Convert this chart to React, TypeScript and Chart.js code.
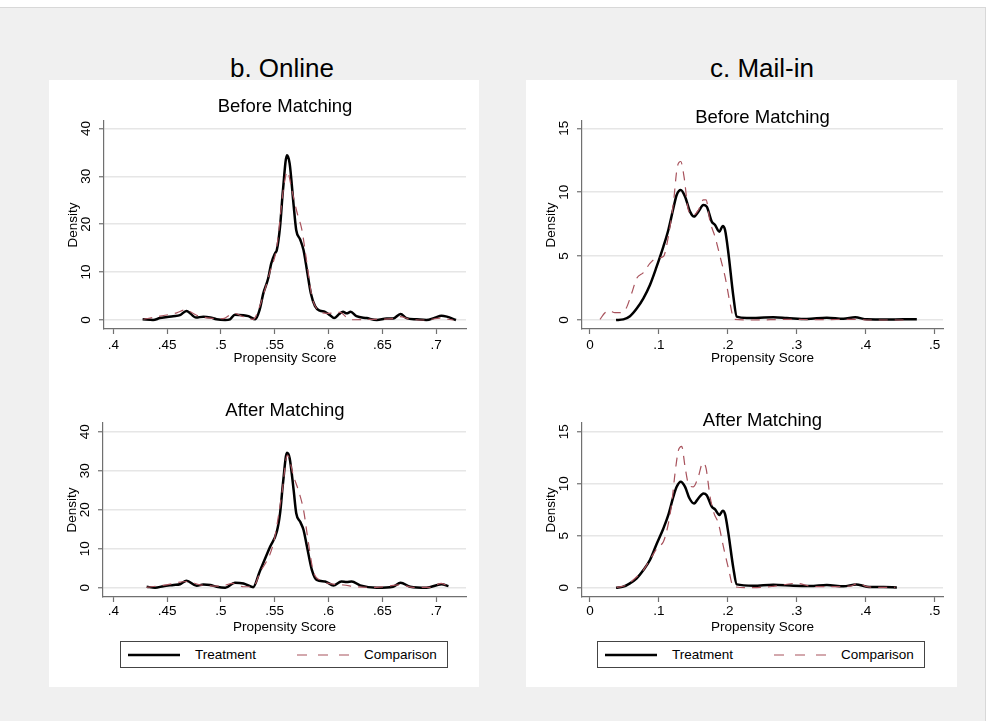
import React, { useEffect, useRef } from "react";
import { Chart, registerables } from "chart.js";

Chart.register(...registerables);

const FONT = "'Liberation Sans', Arial, Helvetica, sans-serif";
const AXIS = "#707070";
const GRID = "#e6e6e6";
const COMP = "#a8525c";

// ---------- data (x = propensity score, y = density) ----------
const onlineBeforeTreatment: [number, number][] = [
  [0.4273, 0.15], [0.437, 0.0], [0.4434, 0.4], [0.4557, 0.8], [0.462, 1.0], [0.468, 1.9],
  [0.477, 0.5], [0.4837, 0.7], [0.49, 0.55], [0.496, 0.15], [0.504, 0.0], [0.5085, 0.15],
  [0.513, 1.1], [0.521, 1.0], [0.5256, 0.8], [0.532, 0.15], [0.536, 2.1], [0.5395, 5.6],
  [0.544, 8.7], [0.5468, 11.8], [0.5505, 14.0], [0.552, 14.6], [0.555, 19.5], [0.5577, 27.1],
  [0.5614, 34.4], [0.5639, 32.7], [0.5676, 24.0], [0.57, 18.8], [0.5737, 16.8], [0.5768, 14.6],
  [0.58, 10.4], [0.5836, 5.6], [0.5875, 2.9], [0.592, 1.95], [0.5968, 1.7], [0.6015, 1.0],
  [0.6052, 0.4], [0.61, 1.25], [0.6135, 1.7], [0.617, 1.4], [0.6206, 1.7], [0.626, 0.8],
  [0.6355, 0.4], [0.645, 0.0], [0.654, 0.3], [0.66, 0.3], [0.667, 1.25], [0.6725, 0.4],
  [0.682, 0.15], [0.691, 0.0], [0.699, 0.5], [0.705, 0.9], [0.71, 0.7], [0.7185, 0.0],
];
const onlineBeforeComparison: [number, number][] = [
  [0.428, 0.15], [0.4435, 0.8], [0.459, 1.5], [0.4667, 2.1], [0.4775, 1.0], [0.49, 0.4],
  [0.502, 0.3], [0.5116, 1.4], [0.521, 0.7], [0.53, 0.15], [0.536, 2.8], [0.5457, 10.1],
  [0.552, 15.3], [0.558, 27.1], [0.5618, 31.0], [0.566, 27.1], [0.5706, 22.6], [0.5753, 18.8],
  [0.58, 11.8], [0.5846, 4.9], [0.589, 2.4], [0.5988, 1.4], [0.6112, 1.6], [0.616, 0.7],
  [0.623, 0.05], [0.642, 0.15], [0.66, 0.3], [0.6666, 0.7], [0.676, 0.15], [0.691, 0.0],
  [0.7035, 0.4], [0.711, 0.15], [0.716, 0.0],
];
const onlineAfterTreatment: [number, number][] = [
  [0.431, 0.25], [0.4388, 0.0], [0.4465, 0.4], [0.456, 0.7], [0.462, 0.9], [0.468, 1.8],
  [0.4775, 0.5], [0.4837, 0.85], [0.49, 0.7], [0.496, 0.25], [0.504, 0.0], [0.513, 1.3],
  [0.521, 1.1], [0.53, 0.15], [0.536, 4.1], [0.5457, 10.5], [0.552, 14.4], [0.555, 19.1],
  [0.5577, 26.8], [0.5614, 34.6], [0.5639, 33.2], [0.5676, 25.0], [0.57, 19.1], [0.5737, 16.9],
  [0.5768, 14.8], [0.58, 10.5], [0.5846, 4.5], [0.589, 2.0], [0.5968, 1.6], [0.6046, 0.6],
  [0.612, 1.6], [0.617, 1.45], [0.6216, 1.6], [0.6294, 0.6], [0.645, 0.0], [0.66, 0.25],
  [0.667, 1.3], [0.676, 0.25], [0.691, 0.0], [0.705, 0.9], [0.7115, 0.4],
];
const onlineAfterComparison: [number, number][] = [
  [0.431, 0.1], [0.4496, 0.75], [0.468, 1.6], [0.4806, 0.75], [0.499, 0.4], [0.5116, 1.1],
  [0.521, 0.25], [0.53, 0.25], [0.536, 3.7], [0.5488, 11.4], [0.5567, 24.2], [0.5618, 34.0],
  [0.5676, 28.5], [0.572, 25.0], [0.5768, 19.9], [0.5814, 11.4], [0.586, 4.1], [0.5937, 1.8],
  [0.6046, 0.9], [0.614, 0.7], [0.626, 0.25], [0.645, 0.1], [0.6666, 0.75], [0.679, 0.1],
  [0.694, 0.1], [0.705, 1.1], [0.7115, 0.25],
];
const mailBeforeTreatment: [number, number][] = [
  [0.0378, 0.0], [0.0484, 0.05], [0.058, 0.3], [0.0678, 0.9], [0.0775, 1.7], [0.087, 2.74],
  [0.0967, 4.17], [0.1065, 5.74], [0.1137, 7.04], [0.121, 8.74], [0.1258, 9.78], [0.1317, 10.17],
  [0.138, 9.65], [0.1452, 8.48], [0.151, 8.09], [0.1573, 8.48], [0.1646, 9.0], [0.1694, 8.87],
  [0.1767, 7.7], [0.1815, 7.43], [0.1878, 6.91], [0.1926, 7.36], [0.196, 7.04], [0.2009, 5.22],
  [0.2081, 1.83], [0.213, 0.26], [0.2275, 0.16], [0.266, 0.21], [0.2856, 0.16], [0.3146, 0.08],
  [0.3437, 0.18], [0.3679, 0.1], [0.3848, 0.21], [0.4017, 0.05], [0.4308, 0.03], [0.455, 0.05],
  [0.4743, 0.05],
];
const mailBeforeComparison: [number, number][] = [
  [0.0145, 0.05], [0.0218, 0.57], [0.028, 0.73], [0.0363, 0.57], [0.0436, 0.57], [0.0523, 0.9],
  [0.0605, 2.09], [0.0678, 3.26], [0.0775, 3.7], [0.087, 4.43], [0.0967, 4.83], [0.1065, 4.96],
  [0.1137, 6.52], [0.121, 9.13], [0.1268, 12.0], [0.1317, 12.4], [0.1365, 11.2], [0.1428, 8.6],
  [0.15, 8.2], [0.1573, 8.6], [0.1646, 9.4], [0.1684, 9.4], [0.1742, 7.7], [0.1815, 6.5],
  [0.1888, 4.96], [0.196, 3.39], [0.2033, 1.3], [0.2091, 0.05], [0.2372, 0.0], [0.2856, 0.05],
  [0.334, 0.03], [0.3824, 0.05], [0.4066, 0.0], [0.455, 0.0],
];
const mailAfterTreatment: [number, number][] = [
  [0.0378, 0.0], [0.0484, 0.1], [0.058, 0.42], [0.0678, 0.9], [0.0775, 1.7], [0.087, 2.66],
  [0.0967, 4.2], [0.1065, 5.7], [0.1137, 7.0], [0.121, 8.75], [0.1258, 9.7], [0.1317, 10.2],
  [0.138, 9.7], [0.1443, 8.6], [0.151, 8.1], [0.1573, 8.6], [0.1646, 9.07], [0.1694, 8.9],
  [0.1767, 7.8], [0.1815, 7.53], [0.1878, 7.0], [0.1926, 7.4], [0.196, 7.08], [0.2009, 5.2],
  [0.2081, 1.86], [0.213, 0.32], [0.2372, 0.19], [0.266, 0.29], [0.2953, 0.19], [0.3195, 0.16],
  [0.3437, 0.26], [0.3679, 0.13], [0.3863, 0.32], [0.4017, 0.1], [0.426, 0.06], [0.4453, 0.03],
];
const mailAfterComparison: [number, number][] = [
  [0.0387, 0.03], [0.0532, 0.26], [0.0653, 0.9], [0.0775, 1.7], [0.0895, 2.98], [0.099, 3.94],
  [0.1065, 4.42], [0.1128, 5.87], [0.1186, 8.1], [0.1234, 11.0], [0.1283, 13.2], [0.1331, 13.6],
  [0.138, 11.6], [0.1428, 10.0], [0.15, 9.7], [0.1573, 10.7], [0.1636, 12.0], [0.1684, 11.5],
  [0.1742, 8.75], [0.18, 7.15], [0.1863, 6.19], [0.1936, 3.94], [0.2009, 1.86], [0.2081, 0.1],
  [0.2372, 0.0], [0.266, 0.13], [0.3, 0.42], [0.3243, 0.1], [0.3485, 0.1], [0.3775, 0.16],
  [0.3896, 0.42], [0.4017, 0.1], [0.426, 0.03], [0.443, 0.03],
];

// ---------- ticks / labels ----------
const onlineXTicks = [0.4, 0.45, 0.5, 0.55, 0.6, 0.65, 0.7];
const onlineXTickLabels = [".4", ".45", ".5", ".55", ".6", ".65", ".7"];
const onlineYTicks = [0, 10, 20, 30, 40];
const onlineYTickLabels = ["0", "10", "20", "30", "40"];
const mailXTicks = [0, 0.1, 0.2, 0.3, 0.4, 0.5];
const mailXTickLabels = ["0", ".1", ".2", ".3", ".4", ".5"];
const mailYTicks = [0, 5, 10, 15];
const mailYTickLabels = ["0", "5", "10", "15"];
const seriesNames = ["Treatment", "Comparison"];
const panelTitles = ["b. Online", "c. Mail-in"];
const subTitles = ["Before Matching", "After Matching"];
const xAxisTitle = "Propensity Score";
const yAxisTitle = "Density";

type Pts = [number, number][];
interface ChartProps {
  treatment: Pts;
  comparison: Pts;
  xTicks: number[];
  xLabels: string[];
  yTicks: number[];
  yLabels: string[];
  xMin: number;
  xMax: number;
  yMin: number;
  yMax: number;
  left: number;
  top: number;
  right: number;
  bottom: number;
  xTickPad: number;
  xTitlePad: number;
}

const YW = 44;
const XH = 40;
const PT = 4;
const PR = 6;

function DensityChart(p: ChartProps) {
  const ref = useRef<HTMLCanvasElement>(null);
  const w = p.right - p.left + YW + PR;
  const h = p.bottom - p.top + PT + XH;
  useEffect(() => {
    const font = { family: FONT, size: 13.5 };
    const chart = new Chart(ref.current as HTMLCanvasElement, {
      type: "line",
      data: {
        datasets: [
          {
            label: seriesNames[0],
            data: p.treatment.map(([x, y]) => ({ x, y })),
            borderColor: "#000000",
            borderWidth: 2.5,
            pointRadius: 0,
            cubicInterpolationMode: "monotone",
            fill: false,
            order: 1,
          },
          {
            label: seriesNames[1],
            data: p.comparison.map(([x, y]) => ({ x, y })),
            borderColor: COMP,
            borderWidth: 1.2,
            borderDash: [9, 7],
            pointRadius: 0,
            cubicInterpolationMode: "monotone",
            fill: false,
            order: 0,
          },
        ],
      },
      options: {
        responsive: false,
        animation: false,
        events: [],
        layout: { padding: { top: PT, right: PR, left: 0, bottom: 0 } },
        plugins: {
          legend: { display: false },
          tooltip: { enabled: false },
          title: { display: false },
        },
        scales: {
          x: {
            type: "linear",
            min: p.xMin,
            max: p.xMax,
            afterBuildTicks: (s: any) => {
              s.ticks = p.xTicks.map((v) => ({ value: v }));
            },
            afterFit: (s: any) => {
              s.height = XH;
              s.paddingLeft = 0;
              s.paddingRight = 0;
            },
            ticks: {
              autoSkip: false,
              minRotation: 0,
              maxRotation: 0,
              padding: p.xTickPad,
              color: "#000",
              font,
              callback: (_v: any, i: number) => p.xLabels[i],
            },
            grid: {
              drawOnChartArea: false,
              drawTicks: true,
              tickLength: 5,
              tickColor: AXIS,
              tickWidth: 1.2,
            },
            border: { display: true, color: AXIS, width: 1.2 },
            title: {
              display: true,
              text: xAxisTitle,
              color: "#000",
              font,
              padding: { top: 0, bottom: p.xTitlePad },
            },
          },
          y: {
            type: "linear",
            min: p.yMin,
            max: p.yMax,
            afterBuildTicks: (s: any) => {
              s.ticks = p.yTicks.map((v) => ({ value: v }));
            },
            afterFit: (s: any) => {
              s.width = YW;
              s.paddingTop = 0;
              s.paddingBottom = 0;
            },
            ticks: {
              autoSkip: false,
              minRotation: 90,
              maxRotation: 90,
              crossAlign: "center",
              padding: 5,
              color: "#000",
              font,
              callback: (_v: any, i: number) => p.yLabels[i],
            },
            grid: {
              color: GRID,
              lineWidth: 1.5,
              drawTicks: true,
              tickLength: 5,
              tickColor: AXIS,
              tickWidth: 1.2,
            },
            border: { display: true, color: AXIS, width: 1.2 },
            title: {
              display: true,
              text: yAxisTitle,
              color: "#000",
              font,
              padding: { top: 5, bottom: 0 },
            },
          },
        },
      },
    } as any);
    return () => chart.destroy();
  }, []);
  return (
    <canvas
      ref={ref}
      width={w}
      height={h}
      style={{ position: "absolute", left: p.left - YW, top: p.top - PT, width: w, height: h }}
    />
  );
}

function CenterText(props: { text: string; cx: number; cy: number; size: number }) {
  const L = Math.round(props.size * 1.3);
  return (
    <div
      style={{
        position: "absolute",
        left: props.cx - 200,
        width: 400,
        top: props.cy - L / 2,
        height: L,
        lineHeight: L + "px",
        fontSize: props.size,
        textAlign: "center",
        color: "#000",
        whiteSpace: "nowrap",
      }}
    >
      {props.text}
    </div>
  );
}

function Legend(props: { left: number }) {
  const l = props.left;
  return (
    <div
      style={{
        position: "absolute",
        left: l,
        top: 641,
        width: 328,
        height: 27,
        border: "1.2px solid #444",
        boxSizing: "border-box",
        background: "#fff",
      }}
    >
      <svg width={326} height={25} style={{ position: "absolute", left: 0, top: 0 }}>
        <line x1={7} y1={13} x2={59} y2={13} stroke="#000" strokeWidth={2.5} />
        <line x1={176} y1={13} x2={228} y2={13} stroke={COMP} strokeWidth={1.2} strokeDasharray="10 11" />
      </svg>
      <div style={{ position: "absolute", left: 74, top: 3, lineHeight: "19px", fontSize: 13.5, color: "#000" }}>
        {seriesNames[0]}
      </div>
      <div style={{ position: "absolute", left: 243, top: 3, lineHeight: "19px", fontSize: 13.5, color: "#000" }}>
        {seriesNames[1]}
      </div>
    </div>
  );
}

export default function App() {
  return (
    <div
      style={{
        position: "absolute",
        left: 0,
        top: 0,
        width: 986,
        height: 721,
        overflow: "hidden",
        background: "#ffffff",
        fontFamily: FONT,
      }}
    >
      <div
        style={{
          position: "absolute",
          left: 0,
          top: 7,
          width: 986,
          height: 720,
          background: "#f0f0f0",
          borderTop: "1px solid #d8d8d8",
          borderRight: "1px solid #d8d8d8",
          boxSizing: "border-box",
        }}
      />
      {/* panels */}
      <div style={{ position: "absolute", left: 49, top: 80, width: 430, height: 607, background: "#fff" }} />
      <div style={{ position: "absolute", left: 526, top: 80, width: 431, height: 607, background: "#fff" }} />

      <DensityChart
        treatment={onlineBeforeTreatment}
        comparison={onlineBeforeComparison}
        xTicks={onlineXTicks}
        xLabels={onlineXTickLabels}
        yTicks={onlineYTicks}
        yLabels={onlineYTickLabels}
        xMin={0.3914}
        xMax={0.7278}
        yMin={-1.88}
        yMax={41.54}
        left={104}
        top={121}
        right={466}
        bottom={329}
        xTickPad={3}
        xTitlePad={3}
      />
      <DensityChart
        treatment={onlineAfterTreatment}
        comparison={onlineAfterComparison}
        xTicks={onlineXTicks}
        xLabels={onlineXTickLabels}
        yTicks={onlineYTicks}
        yLabels={onlineYTickLabels}
        xMin={0.3904}
        xMax={0.7278}
        yMin={-2.38}
        yMax={42.23}
        left={103}
        top={423}
        right={466}
        bottom={597}
        xTickPad={1}
        xTitlePad={2}
      />
      <DensityChart
        treatment={mailBeforeTreatment}
        comparison={mailBeforeComparison}
        xTicks={mailXTicks}
        xLabels={mailXTickLabels}
        yTicks={mailYTicks}
        yLabels={mailYTickLabels}
        xMin={-0.0116}
        xMax={0.5123}
        yMin={-0.704}
        yMax={15.57}
        left={582}
        top={121}
        right={943}
        bottom={329}
        xTickPad={3}
        xTitlePad={3}
      />
      <DensityChart
        treatment={mailAfterTreatment}
        comparison={mailAfterComparison}
        xTicks={mailXTicks}
        xLabels={mailXTickLabels}
        yTicks={mailYTicks}
        yLabels={mailYTickLabels}
        xMin={-0.0116}
        xMax={0.5123}
        yMin={-0.894}
        yMax={15.84}
        left={582}
        top={423}
        right={943}
        bottom={597}
        xTickPad={1}
        xTitlePad={2}
      />

      <CenterText text={panelTitles[0]} cx={282} cy={67.5} size={26} />
      <CenterText text={panelTitles[1]} cx={762} cy={67.5} size={26} />
      <CenterText text={subTitles[0]} cx={285} cy={105.5} size={18.5} />
      <CenterText text={subTitles[0]} cx={762.5} cy={117} size={18.5} />
      <CenterText text={subTitles[1]} cx={285} cy={410.3} size={18.5} />
      <CenterText text={subTitles[1]} cx={762.5} cy={420.3} size={18.5} />

      <Legend left={120} />
      <Legend left={597} />
    </div>
  );
}
